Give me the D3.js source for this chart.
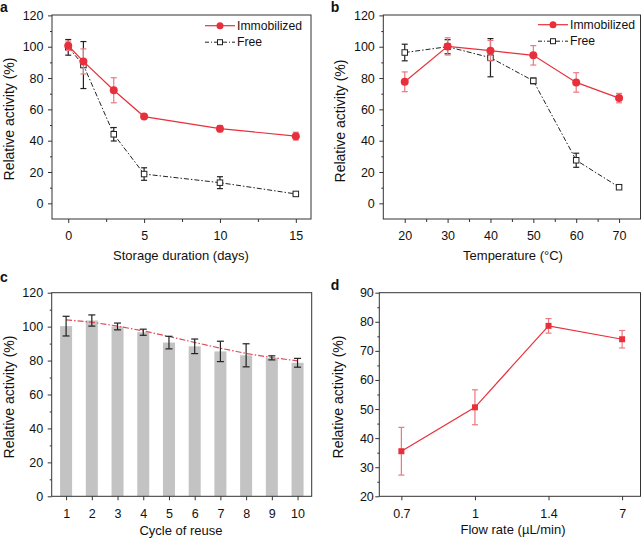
<!DOCTYPE html>
<html><head><meta charset="utf-8">
<script src="https://cdn.jsdelivr.net/npm/d3@7"></script>
<style>
body{margin:0;background:#fff;}
svg{display:block;font-family:"Liberation Sans",Arial,Helvetica,sans-serif;}
</style></head>
<body><svg id="c" width="642" height="539"></svg>
<script>
// ---- Data ----
// Panel a: storage stability
const aDays = [0, 1, 3, 5, 10, 15];
const aImmob = [100.6, 90.6, 72.2, 55.4, 47.7, 42.9];
const aImmobErr = [3, 8, 8, 1, 2, 2.5];
const aFree = [99.6, 88.3, 44.1, 18.7, 13.2, 6.0];
const aFreeErr = [5, 15, 4.3, 4, 3.8, 1];
const aTicks = [0, 5, 10, 15];

// Panel b: temperature
const bTemp = [20, 30, 40, 50, 60, 70];
const bImmob = [77.6, 100.2, 97.5, 94.5, 77.2, 67.2];
const bImmobErr = [6.3, 5.5, 6.5, 6.2, 6.2, 3];
const bFree = [96.3, 100.0, 93.0, 78.2, 27.5, 10.3];
const bFreeErr = [5.3, 4.5, 12.2, 1.8, 4.5, 1];
const bTicks = [20, 30, 40, 50, 60, 70];

// Panel c: reuse cycles
const cCycles = [1, 2, 3, 4, 5, 6, 7, 8, 9, 10];
const cValues = [100.3, 103.6, 100.1, 96.7, 90.6, 88.4, 85.4, 83.1, 81.6, 78.7];
const cErr = [5.8, 3.3, 2, 1.8, 3.7, 4.3, 6, 6.8, 1.2, 2.6];
const cTrend = [104, 102.6, 100.3, 97.5, 94.2, 90.7, 87.3, 84.2, 81.8, 79.8];

// Panel d: flow rate
const dFlowLabels = ["0.7", "1", "1.4", "7"];
const dValues = [35.5, 50.6, 78.6, 74.0];
const dErr = [8.2, 6, 2.5, 3];

const RED = "#e8303c", RED_ERR = "#ec7880", BLACK = "#222", FRAME = "#333";
const svg = d3.select("#c");

function frame(x0, y0, x1, y1) {
  svg.append("rect").attr("x", x0).attr("y", y0).attr("width", x1 - x0).attr("height", y1 - y0)
    .attr("fill", "none").attr("stroke", FRAME).attr("stroke-width", 1);
}
function yAxis(y, x0, major, minor, pad) {
  const g = svg.append("g").attr("transform", `translate(${x0},0)`)
    .call(d3.axisLeft(y).tickValues(major).tickSize(4).tickSizeOuter(0).tickPadding(pad).tickFormat(d3.format("d")));
  g.select(".domain").remove();
  g.selectAll("line").attr("stroke", FRAME);
  g.selectAll("text").attr("font-size", 12.5).attr("fill", "#111");
  const m = svg.append("g").attr("transform", `translate(${x0},0)`)
    .call(d3.axisLeft(y).tickValues(minor).tickSize(2).tickFormat(""));
  m.select(".domain").remove(); m.selectAll("line").attr("stroke", FRAME);
}
function xAxis(x, y0, major, minor, fmt) {
  const g = svg.append("g").attr("transform", `translate(0,${y0})`)
    .call(d3.axisBottom(x).tickValues(major).tickSize(4).tickSizeOuter(0).tickPadding(8.5).tickFormat(fmt || d3.format("d")));
  g.select(".domain").remove();
  g.selectAll("line").attr("stroke", FRAME);
  g.selectAll("text").attr("font-size", 12.5).attr("fill", "#111");
  if (minor && minor.length) {
    const m = svg.append("g").attr("transform", `translate(0,${y0})`)
      .call(d3.axisBottom(x).tickValues(minor).tickSize(3).tickFormat(""));
    m.select(".domain").remove(); m.selectAll("line").attr("stroke", FRAME);
  }
}
function label(txt, x, y, rot, size, weight) {
  const t = svg.append("text").text(txt).attr("font-size", size || 13).attr("fill", "#111")
    .attr("text-anchor", "middle").attr("font-weight", weight || "normal");
  if (rot) t.attr("transform", `translate(${x},${y}) rotate(-90)`).attr("dominant-baseline", "central");
  else t.attr("x", x).attr("y", y);
  return t;
}
function errBars(xs, ys, es, x, y, color, cap) {
  xs.forEach((xv, i) => {
    const cx = x(xv), t = y(ys[i] + es[i]), b = y(ys[i] - es[i]);
    svg.append("line").attr("x1", cx).attr("x2", cx).attr("y1", t).attr("y2", b).attr("stroke", color).attr("stroke-width", 1.2);
    [t, b].forEach(yy => svg.append("line").attr("x1", cx - cap).attr("x2", cx + cap).attr("y1", yy).attr("y2", yy).attr("stroke", color).attr("stroke-width", 1.2));
  });
}
function line(xs, ys, x, y, color, dash, w) {
  const l = svg.append("path").datum(xs.map((v, i) => [v, ys[i]]))
    .attr("d", d3.line().x(d => x(d[0])).y(d => y(d[1])))
    .attr("fill", "none").attr("stroke", color).attr("stroke-width", w || 1.2);
  if (dash) l.attr("stroke-dasharray", dash);
}
function circles(xs, ys, x, y) {
  xs.forEach((v, i) => svg.append("circle").attr("cx", x(v)).attr("cy", y(ys[i])).attr("r", 4).attr("fill", RED));
}
function squares(xs, ys, x, y, fill, stroke, s) {
  xs.forEach((v, i) => svg.append("rect").attr("x", x(v) - s / 2).attr("y", y(ys[i]) - s / 2)
    .attr("width", s).attr("height", s).attr("fill", fill).attr("stroke", stroke).attr("stroke-width", stroke === "none" ? 0 : 1));
}
function legend(x0, y0) {
  svg.append("line").attr("x1", x0).attr("x2", x0 + 30).attr("y1", y0).attr("y2", y0).attr("stroke", RED).attr("stroke-width", 1.2);
  svg.append("circle").attr("cx", x0 + 15).attr("cy", y0).attr("r", 3.5).attr("fill", RED);
  svg.append("text").text("Immobilized").attr("x", x0 + 32).attr("y", y0).attr("dominant-baseline", "central").attr("font-size", 12.2).attr("fill", "#111");
  const y1 = y0 + 16.5;
  svg.append("line").attr("x1", x0).attr("x2", x0 + 30).attr("y1", y1).attr("y2", y1).attr("stroke", BLACK).attr("stroke-width", 1).attr("stroke-dasharray", "4,2,1,2");
  svg.append("rect").attr("x", x0 + 12.5).attr("y", y1 - 2.5).attr("width", 5).attr("height", 5).attr("fill", "#fff").attr("stroke", BLACK);
  svg.append("text").text("Free").attr("x", x0 + 32).attr("y", y1).attr("dominant-baseline", "central").attr("font-size", 12.2).attr("fill", "#111");
}
const minorOf = (lo, hi, step) => d3.range(lo, hi + 0.001, step);

// ---- Panel a ----
{
  const x = d3.scaleLinear().domain([-1.07, 16.0]).range([52, 311]);
  const y = d3.scaleLinear().domain([-10, 120]).range([219, 15.4]);
  frame(52, 15, 311, 219);
  yAxis(y, 52, d3.range(0, 121, 20), minorOf(10, 110, 20), 4.5);
  xAxis(x, 219, aTicks, [2.5, 7.5, 12.5]);
  line(aDays, aFree, x, y, BLACK, "5,2,1.5,2", 1);
  errBars(aDays, aFree, aFreeErr, x, y, BLACK, 3);
  squares(aDays, aFree, x, y, "#fff", BLACK, 5.5);
  line(aDays, aImmob, x, y, RED, null, 1.2);
  errBars(aDays, aImmob, aImmobErr, x, y, RED_ERR, 3);
  circles(aDays, aImmob, x, y);
  legend(205, 25.7);
  label("Relative activity (%)", 9, 119, true, 14);
  label("Storage duration (days)", 181, 260, false, 13);
  label("a", 4, 12, false, 14, "bold");
}
// ---- Panel b ----
{
  const x = d3.scaleLinear().domain([15, 75]).range([383.3, 640.5]);
  const y = d3.scaleLinear().domain([-10, 120]).range([219, 15.4]);
  frame(383.3, 15, 640.5, 219);
  yAxis(y, 383.3, d3.range(0, 121, 20), minorOf(10, 110, 20), 4.5);
  xAxis(x, 219, bTicks, [25, 35, 45, 55, 65]);
  line(bTemp, bFree, x, y, BLACK, "5,2,1.5,2", 1);
  errBars(bTemp, bFree, bFreeErr, x, y, BLACK, 3);
  squares(bTemp, bFree, x, y, "#fff", BLACK, 5.5);
  line(bTemp, bImmob, x, y, RED, null, 1.2);
  errBars(bTemp, bImmob, bImmobErr, x, y, RED_ERR, 3);
  circles(bTemp, bImmob, x, y);
  legend(538, 24.7);
  label("Relative activity (%)", 340, 121, true, 14);
  label("Temperature (°C)", 513, 260, false, 13);
  label("b", 335, 12, false, 14, "bold");
}
// ---- Panel c ----
{
  const x = d3.scaleLinear().domain([0.44, 10.55]).range([51.7, 311.7]);
  const y = d3.scaleLinear().domain([0, 120]).range([496.3, 292.7]);
  svg.append("g").selectAll("rect").data(cCycles).join("rect")
    .attr("x", d => x(d) - 6).attr("width", 12)
    .attr("y", (d, i) => y(cValues[i])).attr("height", (d, i) => y(0) - y(cValues[i]))
    .attr("fill", "#c3c3c3");
  frame(51.7, 292.7, 311.7, 496.3);
  yAxis(y, 51.7, d3.range(0, 121, 20), minorOf(10, 110, 20), 4.5);
  xAxis(x, 496.3, cCycles, []);
  line(cCycles, cTrend, x, y, "#e04a55", "6,2,1.5,2", 1.2);
  errBars(cCycles, cValues, cErr, x, y, BLACK, 3.5);
  label("Relative activity (%)", 9, 397, true, 14);
  label("Cycle of reuse", 181, 535, false, 13);
  label("c", 4, 282, false, 14, "bold");
}
// ---- Panel d ----
{
  const idx = dFlowLabels.map((d, i) => i);
  const x = d3.scaleLinear().domain([-0.3, 3.25]).range([379.3, 640.5]);
  const y = d3.scaleLinear().domain([20, 90]).range([496.3, 292.7]);
  frame(379.3, 292.7, 640.5, 496.3);
  yAxis(y, 379.3, d3.range(20, 91, 10), minorOf(25, 85, 10), 1.5);
  xAxis(x, 496.3, idx, [], i => dFlowLabels[i]);
  line(idx, dValues, x, y, RED, null, 1.2);
  errBars(idx, dValues, dErr, x, y, RED_ERR, 3);
  squares(idx, dValues, x, y, RED, "none", 6);
  label("Relative activity (%)", 338, 397, true, 14);
  label("Flow rate (µL/min)", 513, 534, false, 13);
  label("d", 335, 290, false, 14, "bold");
}
</script></body></html>
